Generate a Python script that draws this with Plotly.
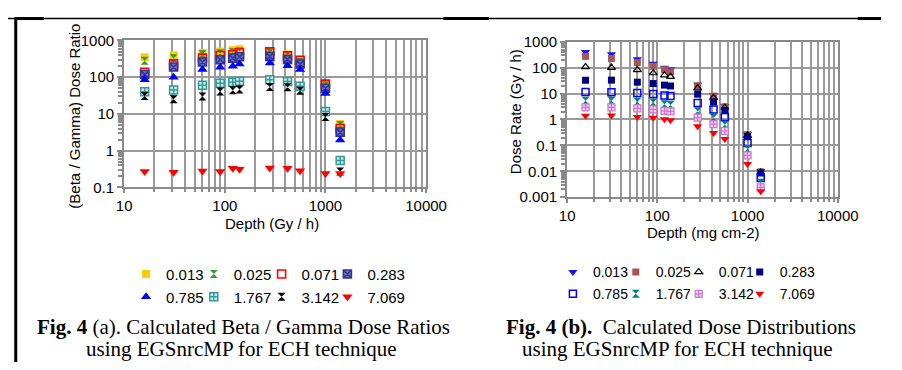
import plotly.graph_objects as go

# ---------------- data ----------------
depth = [16, 31, 60, 90, 120, 140, 280, 420, 560, 1000, 1400]
series_names = ["0.013", "0.025", "0.071", "0.283", "0.785", "1.767", "3.142", "7.069"]

# Fig 4(a): beta / gamma dose ratios
ratio_0013 = [350, 390, 460, 500, 545, 580, 500, 420, 275, 62, 5.3]
ratio_0025 = [280, 330, 420, 450, 480, 510, 470, 400, 262, 60, 5.0]
ratio_0071 = [135, 230, 330, 390, 410, 460, 490, 380, 290, 65, 4.0]
ratio_0283 = [118, 190, 260, 300, 330, 360, 370, 305, 228, 50, 3.2]
ratio_0785 = [85, 100, 163, 188, 200, 230, 243, 204, 163, 36, 1.95]
ratio_1767 = [40, 45, 60, 68, 73, 78, 85, 76, 57, 11.6, 0.54]
ratio_3142 = [31, 25, 30, 41, 44, 46, 54, 53, 43, 8.3, 0.27]
ratio_7069 = [0.27, 0.26, 0.28, 0.27, 0.33, 0.31, 0.34, 0.33, 0.285, 0.24, 0.24]

# Fig 4(b): dose rates
rate_0013 = [400, 330, 210, 142, 100, 84, 22, 8.5, 3.3, 0.27, 0.0102]
rate_0025 = [272, 226, 157, 113, 83, 68, 20, 8.0, 3.1, 0.26, 0.0096]
rate_0071 = [107, 101, 82, 62, 51, 45, 16.3, 6.9, 2.9, 0.24, 0.009]
rate_0283 = [32.6, 33, 27.5, 24.3, 21.2, 19.6, 9.5, 4.8, 2.2, 0.22, 0.0086]
rate_0785 = [11.4, 11.2, 10.6, 9.6, 8.4, 8.0, 4.35, 2.44, 1.24, 0.124, 0.0055]
rate_1767 = [5.3, 5.3, 4.8, 4.5, 3.9, 3.6, 2.06, 1.17, 0.63, 0.072, 0.0036]
rate_3142 = [2.95, 2.95, 2.7, 2.44, 2.16, 2.06, 1.17, 0.66, 0.36, 0.041, 0.0024]
rate_7069 = [1.38, 1.42, 1.25, 1.17, 1.01, 0.93, 0.55, 0.30, 0.175, 0.019, 0.0017]

x_tick_vals = [10, 100, 1000, 10000]
x_tick_text = ["10", "100", "1000", "10000"]
ratio_tick_vals = [0.1, 1, 10, 100, 1000]
ratio_tick_text = ["0.1", "1", "10", "100", "1000"]
rate_tick_vals = [0.001, 0.01, 0.1, 1, 10, 100, 1000]
rate_tick_text = ["0.001", "0.01", "0.1", "1", "10", "100", "1000"]

ratio_series = [ratio_0013, ratio_0025, ratio_0071, ratio_0283,
                ratio_0785, ratio_1767, ratio_3142, ratio_7069]
rate_series = [rate_0013, rate_0025, rate_0071, rate_0283,
               rate_0785, rate_1767, rate_3142, rate_7069]

# ---------------- styles ----------------
W, H = 902, 370
def px(x):
    return x / W
def py(y):
    return 1 - y / H

left_styles = [
    dict(symbol="square", color="#FFCC00", size=8, line=dict(width=0)),
    dict(symbol="hourglass", color="#339933", size=8, line=dict(width=0)),
    dict(symbol="square-open", color="#FF0000", size=8, line=dict(width=1.6, color="#FF0000")),
    dict(symbol="square-x", color="#7777BB", size=8, line=dict(width=1.6, color="#333399")),
    dict(symbol="triangle-up", color="#0000FF", size=9, line=dict(width=0)),
    dict(symbol="square-cross", color="#CCEEEE", size=8, line=dict(width=1.5, color="#339999")),
    dict(symbol="hourglass", color="#000000", size=8, line=dict(width=0)),
    dict(symbol="triangle-down", color="#FF0000", size=9, line=dict(width=0)),
]
right_styles = [
    dict(symbol="triangle-down", color="#1111FF", size=8, line=dict(width=0)),
    dict(symbol="square", color="#AA5555", size=7, line=dict(width=0)),
    dict(symbol="triangle-up-open", color="#000000", size=7, line=dict(width=1.2, color="#000000")),
    dict(symbol="square", color="#000080", size=7, line=dict(width=0)),
    dict(symbol="square-open", color="#0000FF", size=7, line=dict(width=1.5, color="#0000FF")),
    dict(symbol="hourglass", color="#008080", size=8, line=dict(width=0)),
    dict(symbol="square-cross", color="#F4CCF4", size=7, line=dict(width=1.2, color="#CC77CC")),
    dict(symbol="triangle-down", color="#FF0000", size=8, line=dict(width=0)),
]

# legend item placement (marker centre x, row centre y) in pixels
left_leg_x = [145, 215, 285, 353]
left_leg_y = [278, 302]
right_leg_x = [586, 651, 716, 779]
right_leg_y = [276, 299]

fig = go.Figure()
legend_layouts = {}

def legend(x, y, size):
    return dict(orientation="h", x=px(x - 23), y=py(y), xanchor="left", yanchor="middle",
                font=dict(family="Liberation Sans, Arial, sans-serif", size=size, color="black"),
                bgcolor="rgba(0,0,0,0)", borderwidth=0, itemsizing="trace",
                itemclick=False, itemdoubleclick=False)

n = 0
for panel, (series, styles, lx, ly, xa, ya, fs) in enumerate([
        (ratio_series, left_styles, left_leg_x, left_leg_y, "x", "y", 15),
        (rate_series, right_styles, right_leg_x, right_leg_y, "x2", "y2", 14)]):
    for i, (name, vals) in enumerate(zip(series_names, series)):
        n += 1
        key = "legend" if n == 1 else f"legend{n}"
        legend_layouts[key] = legend(lx[i % 4], ly[i // 4], fs)
        fig.add_trace(go.Scatter(x=depth, y=vals, mode="markers", name=name,
                                 marker=styles[i], xaxis=xa, yaxis=ya,
                                 legend=key, cliponaxis=False))

grid = "#9a9a9a"
frame = "#8a8a8a"
tfont = dict(family="Liberation Sans, Arial, sans-serif", size=15, color="black")

def xaxis(domain, anchor):
    return dict(type="log", range=[1, 4], domain=domain, anchor=anchor,
                showline=True, mirror=True, linecolor=frame, linewidth=2,
                showgrid=True, gridcolor=grid, gridwidth=1.5, zeroline=False,
                tickmode="array", tickvals=x_tick_vals, ticktext=x_tick_text,
                ticks="outside", ticklen=4, tickcolor=frame, tickwidth=1.5,
                tickfont=tfont,
                minor=dict(dtick="D1", showgrid=True, gridcolor=grid, gridwidth=1.5,
                           ticks="outside", ticklen=3, tickcolor=frame))

def yaxis(domain, anchor, rng, tv, tt):
    return dict(type="log", range=rng, domain=domain, anchor=anchor,
                showline=True, mirror=True, linecolor=frame, linewidth=2,
                showgrid=True, gridcolor=grid, gridwidth=1.5, zeroline=False,
                tickmode="array", tickvals=tv, ticktext=tt,
                ticks="outside", ticklen=5, tickcolor=frame, tickwidth=1.5,
                tickfont=tfont,
                minor=dict(dtick="D1", showgrid=False,
                           ticks="outside", ticklen=4, tickcolor=frame))

afont = dict(family="Liberation Sans, Arial, sans-serif", size=15, color="black")
cfont = dict(family="Liberation Serif, Times New Roman, serif", size=21, color="black")

annotations = [
    dict(text="(Beta / Gamma) Dose Ratio", x=px(69), y=py(112), textangle=-90, font=afont),
    dict(text="Depth (Gy / h)", x=px(273), y=py(225), font=afont),
    dict(text="Dose Rate (Gy / h)", x=px(524), y=py(108), textangle=-90, font=afont),
    dict(text="Depth (mg cm-2)", x=px(719), y=py(234), font=afont),
    dict(text="<b>Fig. 4</b> (a). Calculated Beta / Gamma Dose Ratios", x=px(243), y=py(333), font=cfont),
    dict(text="using EGSnrcMP for ECH technique", x=px(241), y=py(356), font=cfont),
    dict(text="<b>Fig. 4 (b).</b>&nbsp; Calculated Dose Distributions", x=px(695), y=py(333), font=cfont),
    dict(text="using EGSnrcMP for ECH technique", x=px(692), y=py(356), font=cfont),
]
for a in annotations:
    a.update(xref="paper", yref="paper", showarrow=False, xanchor="center", yanchor="middle")

shapes = [
    dict(type="line", x0=0, x1=1, y0=py(10), y1=py(10), line=dict(color="black", width=1.6)),
    dict(type="line", x0=px(7), x1=px(37), y0=py(10), y1=py(10), line=dict(color="black", width=3)),
    dict(type="line", x0=px(450), x1=px(497), y0=py(10), y1=py(10), line=dict(color="black", width=3)),
    dict(type="line", x0=px(878), x1=1, y0=py(10), y1=py(10), line=dict(color="black", width=3)),
    dict(type="line", x0=px(8), x1=px(8), y0=py(9), y1=0, line=dict(color="black", width=3)),
]
for s in shapes:
    s.update(xref="paper", yref="paper")

fig.update_layout(
    width=W, height=H, margin=dict(l=0, r=0, t=0, b=0),
    paper_bgcolor="white", plot_bgcolor="white",
    xaxis=xaxis([px(120), px(432)], "y"),
    yaxis=yaxis([py(187), py(33)], "x", [-1, 3], ratio_tick_vals, ratio_tick_text),
    xaxis2=xaxis([px(577.7), px(857.3)], "y2"),
    yaxis2=yaxis([py(197.3), py(34.3)], "x2", [-3, 3], rate_tick_vals, rate_tick_text),
    annotations=annotations, shapes=shapes, showlegend=True,
    **legend_layouts,
)

fig.write_html("out.html")
